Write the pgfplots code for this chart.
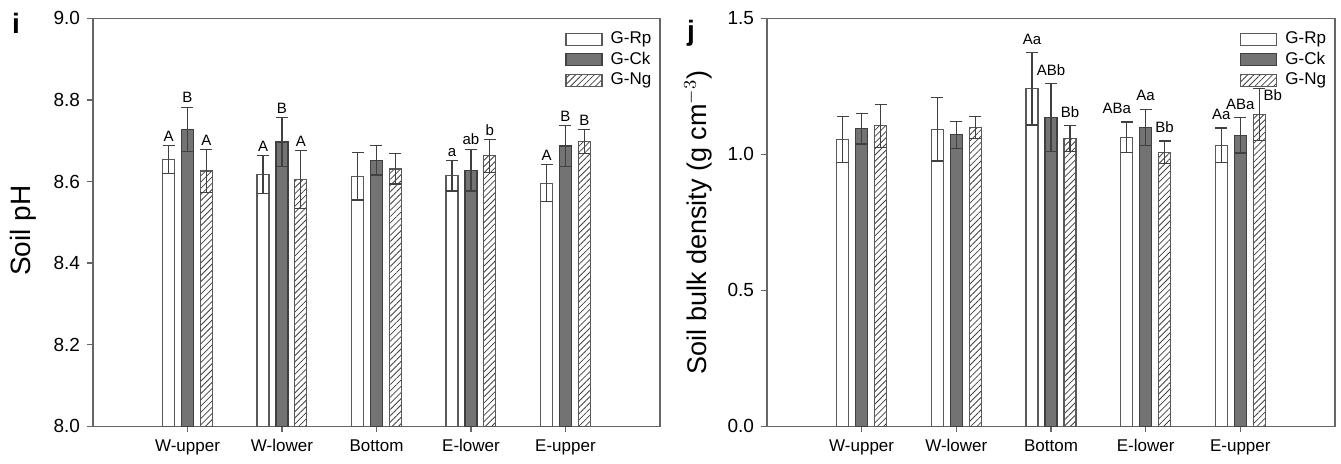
\documentclass[border=0pt]{standalone}
\usepackage{fontspec}
\setmainfont{Liberation Sans}
\usepackage{pgfplots}
\usepackage{pgfplotstable}
\pgfplotsset{compat=1.18}
\usetikzlibrary{patterns.meta}

% soil pH (panel i): mean, sd and letters per slope position
\pgfplotstableread{
x rp rpe ck cke ng nge lrp lck lng
0 8.654 0.034 8.728 0.054 8.626 0.052 A B A
1 8.617 0.046 8.697 0.060 8.605 0.071 A B A
2 8.613 0.058 8.652 0.036 8.631 0.037 {} {} {}
3 8.614 0.037 8.628 0.051 8.663 0.040 a ab b
4 8.596 0.045 8.687 0.050 8.698 0.029 A B B
}\phtable

% soil bulk density (panel j); two crowded letters are placed by hand below
\pgfplotstableread{
x rp rpe ck cke ng nge lrp lck lng
0 1.055 0.084 1.094 0.056 1.105 0.079 {} {} {}
1 1.092 0.116 1.072 0.049 1.099 0.040 {} {} {}
2 1.241 0.133 1.136 0.124 1.058 0.048 Aa ABb Bb
3 1.063 0.056 1.099 0.066 1.008 0.041 {} Aa Bb
4 1.033 0.064 1.070 0.065 1.146 0.096 Aa ABa {}
}\bdtable

\definecolor{axgray}{gray}{0.4}
\tikzset{labfont/.style={font=\fontsize{7.5}{9}\selectfont, inner sep=1pt, black}}

\pgfplotsset{
  panel/.style={scale only axis, width=283.5pt, height=204pt,
    xmin=-1, xmax=5, xtick={0,...,4},
    xticklabels={W-upper,W-lower,Bottom,E-lower,E-upper},
    tick align=outside, xtick pos=left, ytick pos=left,
    major tick length=3pt,
    axis line style={axgray, line width=0.7pt},
    tick style={axgray, line width=0.7pt},
    yticklabel style={font=\fontsize{9.5}{10}\selectfont,
      /pgf/number format/.cd, fixed, fixed zerofill, precision=1},
    xticklabel style={font=\fontsize{8.5}{10}\selectfont},
    /pgf/number format/assume math mode=true,
    clip mode=individual,
    legend image code/.code={\draw[##1] (0pt,-3pt) rectangle (18pt,3pt);},
    legend cell align=left,
    legend style={draw=none, fill=none, at={(axis description cs:0.822,0.988)},
      anchor=north west, font=\fontsize{8.5}{10}\selectfont,
      row sep=-1.3pt, /tikz/every odd column/.append style={column sep=2pt}},
  },
  rp/.style={ybar, bar width=6pt, bar shift=0pt, draw=black!65, fill=white, line width=0.6pt},
  ck/.style={ybar, bar width=6pt, bar shift=0pt, draw=black!75, fill=black!55, line width=0.6pt},
  ng/.style={ybar, bar width=6pt, bar shift=0pt, draw=black!65, line width=0.6pt,
    pattern={Lines[angle=45, distance=2.2pt, line width=0.4pt]}, pattern color=black!75},
  ebar/.style={forget plot, draw=none, mark=none,
    error bars/.cd, y dir=both, y explicit, error mark=none,
    error bar style={line width=0.6pt, draw=black!75, solid}},
  cap/.style={forget plot, only marks, mark=-, mark size=3pt,
    mark options={draw=black!75, line width=0.6pt, solid}},
  lab/.style={forget plot, only marks, mark=*, mark size=0pt, mark options={draw=none, fill=none},
    nodes near coords, point meta=explicit symbolic,
    every node near coord/.append style={labfont, anchor=south, yshift=#1}},
}

\begin{document}
\begin{tikzpicture}
\path[use as bounding box] (-46.5pt,-18.7pt) rectangle (624pt,213.2pt);

\begin{axis}[panel, name=L, ymin=8, ymax=9, ytick={8,8.2,...,9.01},
  ylabel={Soil pH}, ylabel style={font=\fontsize{14}{14}\selectfont, at={(axis description cs:-0.1235,0.48)}, anchor=center}]
\addplot[rp] table[x expr=\thisrow{x}-0.2, y=rp] {\phtable};
\addplot[ck] table[x=x, y=ck] {\phtable};
\addplot[ng] table[x expr=\thisrow{x}+0.2, y=ng] {\phtable};
\legend{G-Rp, G-Ck, G-Ng}
\addplot[ebar] table[x expr=\thisrow{x}-0.2, y=rp, y error=rpe] {\phtable};
\addplot[ebar] table[x=x, y=ck, y error=cke] {\phtable};
\addplot[ebar] table[x expr=\thisrow{x}+0.2, y=ng, y error=nge] {\phtable};
\addplot[cap] table[x expr=\thisrow{x}-0.2, y expr=\thisrow{rp}+\thisrow{rpe}] {\phtable};
\addplot[cap] table[x expr=\thisrow{x}-0.2, y expr=\thisrow{rp}-\thisrow{rpe}] {\phtable};
\addplot[cap] table[x expr=\thisrow{x}, y expr=\thisrow{ck}+\thisrow{cke}] {\phtable};
\addplot[cap] table[x expr=\thisrow{x}, y expr=\thisrow{ck}-\thisrow{cke}] {\phtable};
\addplot[cap] table[x expr=\thisrow{x}+0.2, y expr=\thisrow{ng}+\thisrow{nge}] {\phtable};
\addplot[cap] table[x expr=\thisrow{x}+0.2, y expr=\thisrow{ng}-\thisrow{nge}] {\phtable};
\addplot[lab=1pt] table[x expr=\thisrow{x}-0.2, y expr=\thisrow{rp}+\thisrow{rpe}, meta=lrp] {\phtable};
\addplot[lab=1pt] table[x expr=\thisrow{x}, y expr=\thisrow{ck}+\thisrow{cke}, meta=lck] {\phtable};
\addplot[lab=1pt] table[x expr=\thisrow{x}+0.2, y expr=\thisrow{ng}+\thisrow{nge}, meta=lng] {\phtable};
\end{axis}
\node[font=\bfseries\fontsize{14}{14}\selectfont, anchor=base] at ([xshift=-38.5pt, yshift=-7.4pt]L.north west) {i};

\begin{axis}[panel, name=R, at={(337pt,0pt)}, width=284pt, ymin=0, ymax=1.5, ytick={0,0.5,1,1.5},
  ylabel={Soil bulk density (g cm$^{-3}$)}, ylabel style={font=\fontsize{13.5}{14}\selectfont, at={(axis description cs:-0.1215,0.5)}, anchor=center}]
\addplot[rp] table[x expr=\thisrow{x}-0.2, y=rp] {\bdtable};
\addplot[ck] table[x=x, y=ck] {\bdtable};
\addplot[ng] table[x expr=\thisrow{x}+0.2, y=ng] {\bdtable};
\legend{G-Rp, G-Ck, G-Ng}
\addplot[ebar] table[x expr=\thisrow{x}-0.2, y=rp, y error=rpe] {\bdtable};
\addplot[ebar] table[x=x, y=ck, y error=cke] {\bdtable};
\addplot[ebar] table[x expr=\thisrow{x}+0.2, y=ng, y error=nge] {\bdtable};
\addplot[cap] table[x expr=\thisrow{x}-0.2, y expr=\thisrow{rp}+\thisrow{rpe}] {\bdtable};
\addplot[cap] table[x expr=\thisrow{x}-0.2, y expr=\thisrow{rp}-\thisrow{rpe}] {\bdtable};
\addplot[cap] table[x expr=\thisrow{x}, y expr=\thisrow{ck}+\thisrow{cke}] {\bdtable};
\addplot[cap] table[x expr=\thisrow{x}, y expr=\thisrow{ck}-\thisrow{cke}] {\bdtable};
\addplot[cap] table[x expr=\thisrow{x}+0.2, y expr=\thisrow{ng}+\thisrow{nge}] {\bdtable};
\addplot[cap] table[x expr=\thisrow{x}+0.2, y expr=\thisrow{ng}-\thisrow{nge}] {\bdtable};
\addplot[lab=3pt] table[x expr=\thisrow{x}-0.2, y expr=\thisrow{rp}+\thisrow{rpe}, meta=lrp] {\bdtable};
\addplot[lab=3pt] table[x expr=\thisrow{x}, y expr=\thisrow{ck}+\thisrow{cke}, meta=lck] {\bdtable};
\addplot[lab=3pt] table[x expr=\thisrow{x}+0.2, y expr=\thisrow{ng}+\thisrow{nge}, meta=lng] {\bdtable};
\node[labfont, anchor=south, xshift=-5pt, yshift=3pt] at (axis cs:2.8,1.119) {ABa};
\node[labfont, anchor=south west] at (axis cs:4.22,1.19) {Bb};
\end{axis}
\node[font=\bfseries\fontsize{14}{14}\selectfont, anchor=base] at ([xshift=-38pt, yshift=-11.3pt]R.north west) {j};
\end{tikzpicture}
\end{document}
